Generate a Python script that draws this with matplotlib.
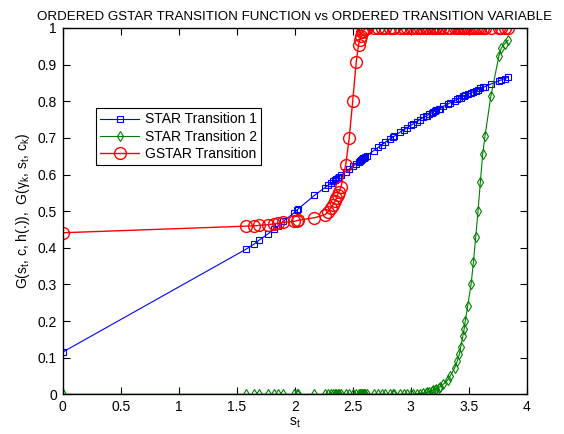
import matplotlib.pyplot as plt

plt.rcParams['font.family'] = ['Liberation Sans', 'DejaVu Sans']
plt.rcParams['mathtext.fontset'] = 'custom'
plt.rcParams['mathtext.rm'] = 'Liberation Sans'
plt.rcParams['mathtext.it'] = 'Liberation Sans'

# ordered transition variable s_t
s_t = [0.00,
       1.58, 1.65, 1.69, 1.77, 1.82, 1.86, 1.90, 1.99, 2.02, 2.03,
       2.17, 2.26, 2.29, 2.31, 2.33, 2.35, 2.36, 2.37, 2.38, 2.40,
       2.44, 2.47, 2.50, 2.53, 2.55, 2.56, 2.57, 2.58, 2.59, 2.60, 2.61,
       2.62, 2.68, 2.72, 2.75, 2.78, 2.82, 2.85, 2.86, 2.91, 2.94, 2.97,
       3.00, 3.02, 3.05, 3.08,
       3.11, 3.13, 3.14, 3.16, 3.18, 3.19, 3.21, 3.22, 3.24, 3.25,
       3.28, 3.32, 3.34, 3.38, 3.40, 3.42, 3.43, 3.45, 3.46, 3.47, 3.49,
       3.52, 3.54, 3.56, 3.58, 3.60, 3.62, 3.64, 3.69, 3.76, 3.78, 3.81, 3.84]

star1 = [0.115,
         0.396, 0.410, 0.420, 0.438, 0.450, 0.460, 0.472, 0.494, 0.503, 0.506,
         0.543, 0.564, 0.571, 0.576, 0.581, 0.585, 0.588, 0.590, 0.593, 0.598,
         0.608, 0.615, 0.622, 0.630, 0.634, 0.637, 0.639, 0.642, 0.644, 0.646, 0.649,
         0.651, 0.665, 0.674, 0.681, 0.688, 0.697, 0.703, 0.705, 0.716, 0.722, 0.728,
         0.734, 0.738, 0.744, 0.750,
         0.756, 0.759, 0.761, 0.765, 0.768, 0.770, 0.774, 0.775, 0.779, 0.780,
         0.786, 0.792, 0.796, 0.802, 0.805, 0.808, 0.810, 0.813, 0.814, 0.816, 0.819,
         0.823, 0.826, 0.829, 0.832, 0.835, 0.838, 0.840, 0.847, 0.856, 0.858, 0.862, 0.865]

star2 = [0.0,
         0.0, 0.0, 0.0, 0.0, 0.0, 0.0, 0.0, 0.0, 0.0, 0.0,
         0.0, 0.0, 0.0, 0.0, 0.0, 0.0, 0.0, 0.0, 0.0, 0.0,
         0.0, 0.0, 0.0, 0.0, 0.0, 0.0, 0.0, 0.0, 0.0, 0.0, 0.0,
         0.0, 0.0, 0.0, 0.0, 0.0, 0.0, 0.0, 0.0, 0.0, 0.0, 0.0,
         0.0, 0.0, 0.001, 0.002,
         0.003, 0.004, 0.005, 0.007, 0.009, 0.011, 0.013, 0.015, 0.018, 0.020,
         0.027, 0.040, 0.050, 0.073, 0.090, 0.110, 0.128, 0.160, 0.178, 0.200, 0.240,
         0.300, 0.360, 0.430, 0.500, 0.580, 0.655, 0.705, 0.813, 0.924, 0.945, 0.957, 0.967]

gstar = [0.441,
         0.459, 0.460, 0.461, 0.463, 0.465, 0.467, 0.469, 0.472, 0.474, 0.475,
         0.482, 0.490, 0.499, 0.508, 0.518, 0.528, 0.535, 0.545, 0.552, 0.567,
         0.627, 0.700, 0.800, 0.906, 0.954, 0.968, 0.977, 0.988, 0.993, 0.996, 0.998,
         0.999, 1.0, 1.0, 1.0, 1.0, 1.0, 1.0, 1.0, 1.0, 1.0, 1.0,
         1.0, 1.0, 1.0, 1.0,
         1.0, 1.0, 1.0, 1.0, 1.0, 1.0, 1.0, 1.0, 1.0, 1.0,
         1.0, 1.0, 1.0, 1.0, 1.0, 1.0, 1.0, 1.0, 1.0, 1.0, 1.0,
         1.0, 1.0, 1.0, 1.0, 1.0, 1.0, 1.0, 1.0, 1.0, 1.0, 1.0, 1.0]

fig = plt.figure(figsize=(5.64, 4.34), dpi=100)
ax = fig.add_axes([0.111, 0.0915, 0.823, 0.844])

ax.plot(s_t, star1, '-s', color='#0000ff', lw=0.8, ms=4.0, mfc='none', mew=0.8,
        label='STAR Transition 1')
ax.plot(s_t, star2, '-d', color='#008000', lw=0.8, ms=5.0, mfc='none', mew=0.8,
        label='STAR Transition 2')
ax.plot(s_t, gstar, '-o', color='#ff0000', lw=1.0, ms=8.5, mfc='none', mew=1.0,
        label='GSTAR Transition')

ax.set_xlim(0, 4)
ax.set_ylim(0, 1)
ax.set_xticks([0, 0.5, 1, 1.5, 2, 2.5, 3, 3.5, 4])
ax.set_xticklabels(['0', '0.5', '1', '1.5', '2', '2.5', '3', '3.5', '4'])
ax.set_yticks([i / 10 for i in range(11)])
ax.set_yticklabels(['0', '0.1', '0.2', '0.3', '0.4', '0.5', '0.6', '0.7', '0.8', '0.9', '1'])
ax.tick_params(direction='in', top=True, right=True, length=5, width=0.8,
               labelsize=10, pad=4)
for sp in ax.spines.values():
    sp.set_linewidth(1.0)

ax.set_title('ORDERED GSTAR TRANSITION FUNCTION vs ORDERED TRANSITION VARIABLE',
             fontsize=9.6, pad=6)
ax.set_xlabel('s$_t$', fontsize=10, labelpad=1)
ax.set_ylabel('G(s$_t$, c, h(.)),  G($\\gamma_k$, s$_t$, c$_k$)', fontsize=10, labelpad=4)

leg = ax.legend(loc='upper left', bbox_to_anchor=(0.072, 0.781), fancybox=False,
                edgecolor='black', framealpha=1, fontsize=10, handlelength=2.8,
                borderpad=0.3, labelspacing=0.25, handletextpad=0.4, borderaxespad=0)
leg.get_frame().set_linewidth(0.8)

fig.savefig('out.png', dpi=100)
